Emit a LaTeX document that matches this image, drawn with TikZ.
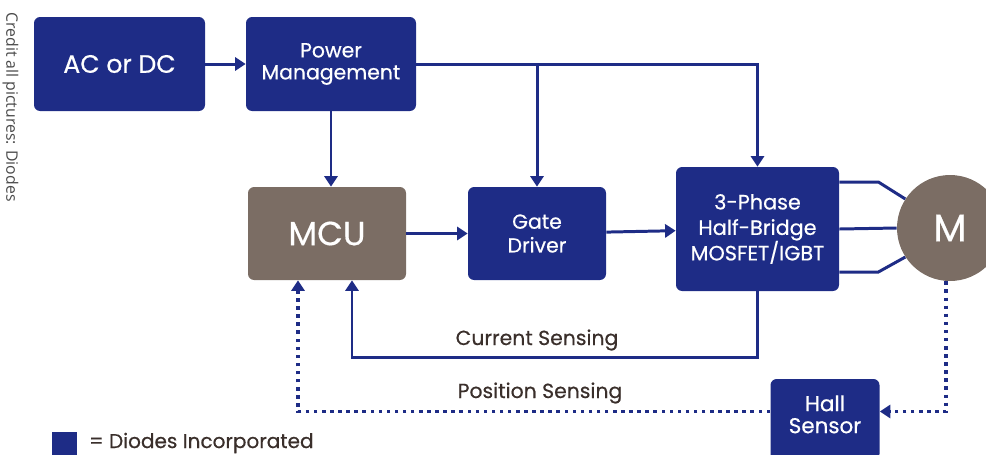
\documentclass[tikz,border=0pt]{standalone}
\usepackage{fontspec}
\setmainfont{Poppins}[FakeBold=0.5]
\newfontfamily\creditfont{Open Sans}
\usepackage{tikz}
\usetikzlibrary{arrows.meta,positioning,calc}
\definecolor{dnavy}{HTML}{1E2C86}
\definecolor{dbrown}{HTML}{7B6D64}
\definecolor{dtext}{HTML}{3A2F2B}
\definecolor{dgrey}{HTML}{4A4A4A}

\begin{document}
\begin{tikzpicture}[
    every node/.style={font=\fontsize{11.6}{14.5}\selectfont},
    blockbox/.style={fill=dnavy,text=white,rounded corners=3.5pt,align=center,inner sep=2pt},
    mcubox/.style={fill=dbrown,text=white,rounded corners=3.5pt,inner sep=2pt},
    wire/.style={dnavy,line width=1.7pt},
    arr/.style={wire,-{Triangle[width=7.5pt,length=6pt]}},
    dotarr/.style={wire,line width=2pt,dash pattern=on 2pt off 2.6pt,-{Triangle[width=7.5pt,length=6pt]}}]
  \useasboundingbox (0,0) rectangle (19.72,-9.08);

  % blocks
  \node[blockbox,minimum width=3.42cm,minimum height=1.88cm,font=\fontsize{14.3}{17}\selectfont] (ac) at (2.39,-1.28) {AC or DC};
  \node[blockbox,minimum width=3.40cm,minimum height=1.88cm,font=\fontsize{11.6}{12.5}\selectfont] (pm) at (6.62,-1.28) {Power\\Management};
  \node[mcubox,minimum width=3.16cm,minimum height=1.86cm,font=\fontsize{19}{22}\selectfont] (mcu) at (6.54,-4.67) {MCU};
  \node[blockbox,minimum width=2.76cm,minimum height=1.86cm,font=\fontsize{11.6}{13.5}\selectfont] (gate) at (10.74,-4.67) {Gate\\Driver};
  \node[blockbox,minimum width=3.26cm,minimum height=2.48cm,font=\fontsize{11.8}{14.5}\selectfont] (bridge) at (15.15,-4.58) {3-Phase\\Half-Bridge\\MOSFET/IGBT};
  \node[circle,fill=dbrown,text=white,minimum size=2.12cm,inner sep=0pt,font=\fontsize{22}{24}\selectfont] (motor) at (19.0,-4.56) {M};
  \node[blockbox,minimum width=2.18cm,minimum height=1.62cm,text depth=6pt,font=\fontsize{12.2}{12.5}\selectfont] (hall) at (16.5,-8.39) {Hall\\Sensor};

  % power and drive paths
  \draw[arr] (ac) -- (pm);
  \draw[arr] (pm.south) -- (pm.south |- mcu.north);
  \draw[arr] (pm.east) -| (bridge.north);
  \coordinate (gj) at (gate.north |- pm.east);
  \draw[arr] (gj) -- (gate.north);
  \draw[arr] (mcu) -- (gate);
  \draw[arr] (gate) -- (bridge);

  % phases to motor
  \draw[wire] ($(bridge.east)+(0,0.94)$) -- ++(0.78,0) -- (motor.147);
  \draw[wire] (bridge.east) -- (motor.west);
  \draw[wire] ($(bridge.east)+(0,-0.86)$) -- ++(0.78,0) -- (motor.213);

  % current feedback
  \coordinate (cs) at (7.04,-7.14);
  \draw[arr] (bridge.south) |- (cs) -- (cs |- mcu.south);
  \node[text=dtext] (cslabel) at (10.74,-6.80) {Current Sensing};

  % position feedback
  \coordinate (ps) at (5.96,-8.23);
  \draw[dotarr] ($(motor.south)+(-0.08,0)$) |- (hall.east |- ps);
  \draw[dotarr] (hall.west |- ps) -- (ps) -- (ps |- mcu.south);
  \node[text=dtext] (pslabel) at (10.80,-7.86) {Position Sensing};

  % key
  \node[fill=dnavy,minimum width=0.5cm,minimum height=0.46cm,inner sep=0pt] (key) at (1.29,-8.86) {};
  \node[text=dtext,anchor=west,font=\fontsize{11.4}{12}\selectfont] (keytext) at (1.66,-8.86) {= Diodes Incorporated};

  \node[text=dgrey,rotate=-90,anchor=west,font=\creditfont\fontsize{9}{10}\selectfont,inner sep=0pt] (credit) at (0.21,-0.24) {Credit all pictures: Diodes};
\end{tikzpicture}
\end{document}
